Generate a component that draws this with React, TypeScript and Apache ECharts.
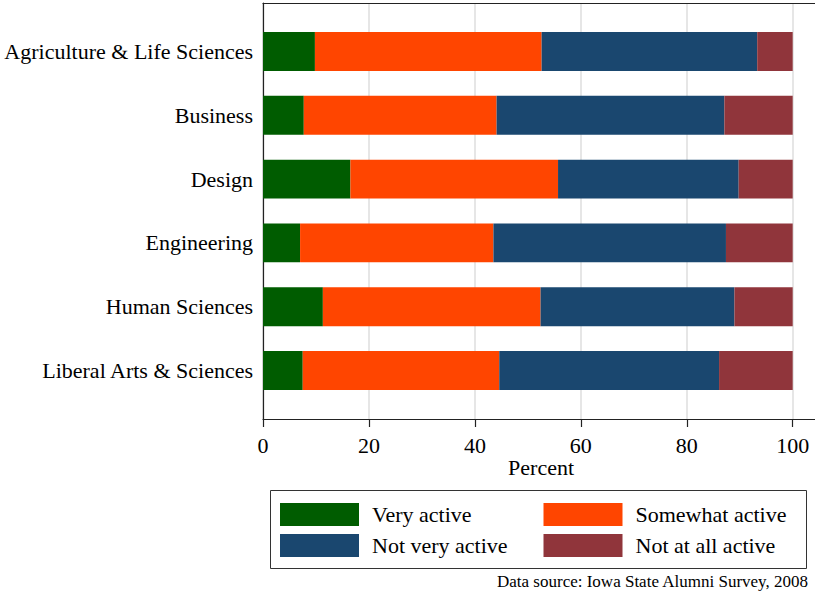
import React, { useEffect, useRef } from "react";
import * as echarts from "echarts";

const categories = [
  "Agriculture & Life Sciences",
  "Business",
  "Design",
  "Engineering",
  "Human Sciences",
  "Liberal Arts & Sciences",
];
const seriesNames = ["Very active", "Somewhat active", "Not very active", "Not at all active"];
const veryActive = [9.8, 7.7, 16.5, 7.0, 11.3, 7.5];
const somewhatActive = [42.8, 36.4, 39.2, 36.5, 41.1, 37.1];
const notVeryActive = [40.7, 43.0, 34.1, 43.9, 36.6, 41.5];
const notAtAllActive = [6.7, 12.9, 10.2, 12.6, 11.0, 13.9];
const tickValues = [0, 20, 40, 60, 80, 100];
const axisTitle = "Percent";
const sourceNote = "Data source: Iowa State Alumni Survey, 2008";

const colors = ["#005c00", "#ff4500", "#1a476f", "#90353b"];
const FONT = "'Liberation Serif', 'Times New Roman', serif";

export default function App() {
  const ref = useRef<HTMLDivElement>(null);
  useEffect(() => {
    if (!ref.current) return;
    const chart = echarts.init(ref.current, null, { renderer: "svg" });
    const XMAX = 105;
    const gridW = 5.297 * XMAX;
    const values = [veryActive, somewhatActive, notVeryActive, notAtAllActive];
    const legendPos = [
      { left: 280, top: 503 },
      { left: 543.5, top: 503 },
      { left: 280, top: 534 },
      { left: 543.5, top: 534 },
    ];
    chart.setOption({
      animation: false,
      textStyle: { fontFamily: FONT },
      grid: [
        { left: 263, top: 19.6, height: 382.8, width: gridW },
        { left: 263, top: 3, height: 416, width: gridW },
      ],
      xAxis: [
        { gridIndex: 0, type: "value", min: 0, max: XMAX, show: false },
        {
          gridIndex: 1,
          type: "value",
          min: 0,
          max: XMAX,
          interval: 20,
          axisLine: { show: true, lineStyle: { color: "#222", width: 1.2 } },
          axisTick: { show: true, length: 8, lineStyle: { color: "#222", width: 1.2 } },
          axisLabel: {
            color: "#000",
            fontSize: 22,
            fontFamily: FONT,
            margin: 15,
            formatter: (v: number) => (tickValues.includes(v) ? String(v) : ""),
          },
          splitLine: { show: true, lineStyle: { color: "#dedede", width: 1.5 } },
          name: axisTitle,
          nameLocation: "middle",
          nameGap: 37,
          nameMoveOverlap: false,
          nameTextStyle: { color: "#000", fontSize: 22, fontFamily: FONT },
        },
        {
          gridIndex: 1,
          type: "value",
          position: "top",
          min: 0,
          max: XMAX,
          axisLine: { show: true, onZero: false, lineStyle: { color: "#222", width: 1.2 } },
          axisTick: { show: false },
          axisLabel: { show: false },
          splitLine: { show: false },
        },
      ],
      yAxis: [
        {
          gridIndex: 0,
          type: "category",
          inverse: true,
          data: categories,
          axisLine: { show: false },
          axisTick: { show: false },
          axisLabel: { color: "#000", fontSize: 22, fontFamily: FONT, margin: 10 },
        },
        {
          gridIndex: 1,
          type: "value",
          min: 0,
          max: 1,
          axisLine: { show: true, lineStyle: { color: "#222", width: 1.2 } },
          axisTick: { show: false },
          axisLabel: { show: false },
          splitLine: { show: false },
        },
      ],
      legend: seriesNames.map((n, i) => ({
        data: [n],
        left: legendPos[i].left,
        top: legendPos[i].top,
        padding: 0,
        icon: "rect",
        itemWidth: 79,
        itemHeight: 23,
        selectedMode: false,
        textStyle: { color: "#000", fontSize: 22, fontFamily: FONT, padding: [0, 0, 0, 8] },
      })),
      graphic: [
        {
          type: "rect",
          shape: { x: 270.5, y: 490.5, width: 536, height: 78 },
          style: { fill: "none", stroke: "#333", lineWidth: 1 },
        },
        {
          type: "text",
          x: 808,
          y: 581,
          style: {
            text: sourceNote,
            fill: "#000",
            font: `17px ${FONT}`,
            textAlign: "right",
            textVerticalAlign: "middle",
          },
        },
      ],
      series: seriesNames.map((n, i) => ({
        name: n,
        type: "bar",
        stack: "total",
        xAxisIndex: 0,
        yAxisIndex: 0,
        barWidth: "61%",
        itemStyle: { color: colors[i] },
        data: values[i],
      })),
    });
    return () => chart.dispose();
  }, []);
  return (
    <div style={{ position: "fixed", left: 0, top: 0, width: 815, height: 595, overflow: "hidden", background: "#fff" }}>
      <div ref={ref} style={{ width: 830, height: 595 }} />
    </div>
  );
}
